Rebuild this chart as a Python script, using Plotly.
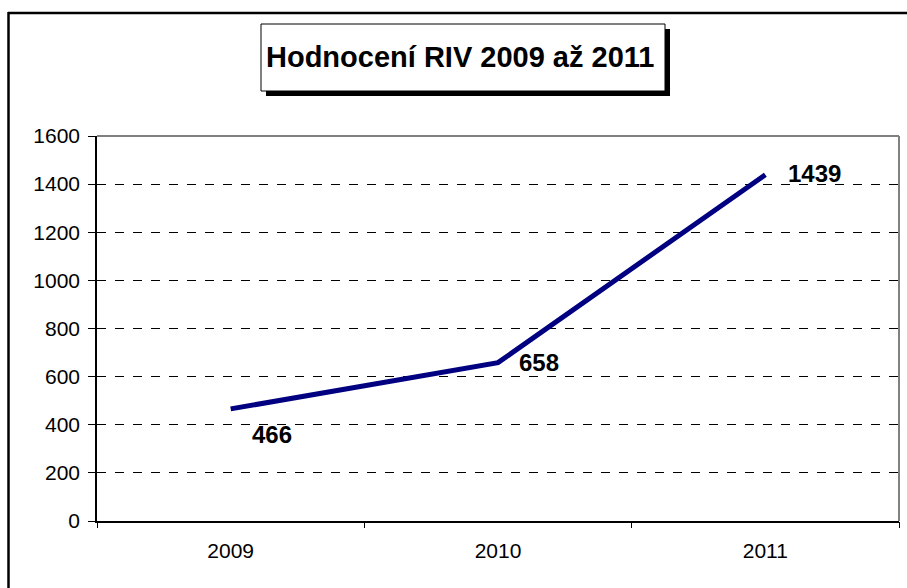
import plotly.graph_objects as go

years = ["2009", "2010", "2011"]
values = [466, 658, 1439]
y_ticks = [0, 200, 400, 600, 800, 1000, 1200, 1400, 1600]
title_text = "Hodnocení RIV 2009 až 2011"

W, H = 907, 588
L, R, T, B = 97, 8, 136, 67
PW, PH = W - L - R, H - T - B

def px(x):
    return (x - L) / PW

def py(y):
    return (H - B - y) / PH

FONT = "Arial, Liberation Sans, sans-serif"

fig = go.Figure()
fig.add_trace(go.Scatter(
    x=list(range(len(years))), y=values, mode="lines",
    line=dict(color="#000080", width=5),
    hoverinfo="skip", showlegend=False,
))

# data labels
label_yshift = [-26, 0, 1]
label_xshift = [19, 19, 21]
for i, (v, xs, ys) in enumerate(zip(values, label_xshift, label_yshift)):
    fig.add_annotation(x=i, y=v, xref="x", yref="y", text=str(v),
                       showarrow=False, xanchor="left", yanchor="middle",
                       xshift=xs, yshift=ys,
                       font=dict(family=FONT, size=24, color="black", weight="bold"))

shapes = []
# plot border top/right in gray
shapes.append(dict(type="line", xref="paper", yref="paper", x0=0, x1=1, y0=1, y1=1,
                   line=dict(color="#808080", width=2)))
shapes.append(dict(type="line", xref="paper", yref="paper", x0=1, x1=1, y0=0, y1=1,
                   line=dict(color="#808080", width=2)))
# outer chart border (top & left visible)
shapes.append(dict(type="line", xref="paper", yref="paper", x0=px(8), x1=px(910), y0=py(13), y1=py(13),
                   line=dict(color="black", width=2.5)))
shapes.append(dict(type="line", xref="paper", yref="paper", x0=px(8.5), x1=px(8.5), y0=py(12), y1=py(600),
                   line=dict(color="black", width=2.5)))
# title box shadow + box
shapes.append(dict(type="rect", xref="paper", yref="paper", x0=px(266), x1=px(670), y0=py(96), y1=py(29),
                   line=dict(width=0), fillcolor="black"))
shapes.append(dict(type="rect", xref="paper", yref="paper", x0=px(261), x1=px(665), y0=py(91), y1=py(24),
                   line=dict(color="black", width=1), fillcolor="white"))
fig.update_layout(shapes=shapes)

fig.add_annotation(x=px(460), y=py(57), xref="paper", yref="paper", text=title_text,
                   showarrow=False, xanchor="center", yanchor="middle",
                   font=dict(family=FONT, size=29, color="black", weight="bold"))

fig.update_layout(
    width=W, height=H,
    margin=dict(l=L, r=R, t=T, b=B),
    paper_bgcolor="white", plot_bgcolor="white",
    font=dict(family=FONT, size=21, color="black"),
    xaxis=dict(
        type="linear", range=[-0.5, 2.5],
        tickvals=[0, 1, 2], ticktext=years,
        showline=True, linecolor="black", linewidth=1.5,
        ticks="", showgrid=False, zeroline=False,
        ticklabelstandoff=10,
        tickfont=dict(family=FONT, size=21, color="black"),
    ),
    xaxis2=dict(
        overlaying="x", anchor="y", side="bottom",
        range=[-0.5, 2.5], tickvals=[-0.5, 0.5, 1.5, 2.5],
        ticks="outside", ticklen=6, tickcolor="black", tickwidth=1,
        showticklabels=False, showgrid=False, showline=False, zeroline=False,
    ),
    yaxis=dict(
        range=[0, 1600], tickvals=y_ticks,
        showline=True, linecolor="black", linewidth=1.5,
        ticks="outside", ticklen=7, tickcolor="black", tickwidth=1,
        ticklabelstandoff=4,
        showgrid=True, gridcolor="black", gridwidth=1, griddash="dash",
        zeroline=False,
        tickfont=dict(family=FONT, size=21, color="black"),
    ),
)
# invisible trace to activate tick boundaries axis
fig.add_trace(go.Scatter(x=[-0.5], y=[0], xaxis="x2", yaxis="y", mode="markers",
                         marker=dict(opacity=0), hoverinfo="skip", showlegend=False))

fig.write_html("out.html", config={"displayModeBar": False},
               post_script="document.body.style.margin='0';")
